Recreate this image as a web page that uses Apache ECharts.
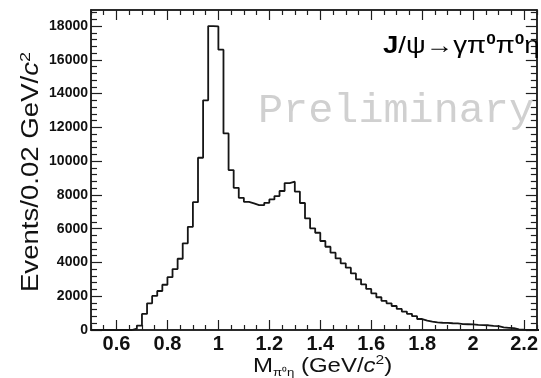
<!DOCTYPE html>
<html><head><meta charset="utf-8">
<script src="https://cdn.jsdelivr.net/npm/echarts@6/dist/echarts.min.js"></script>
<style>html,body{margin:0;padding:0;background:#fff}#c{width:541px;height:378px}</style>
</head><body><div id="c"></div>
<script>
// Histogram bin lower edges (GeV/c^2), bin width 0.02
const binLowEdges = [0.50,0.52,0.54,0.56,0.58,0.60,0.62,0.64,0.66,0.68,0.70,0.72,0.74,0.76,0.78,0.80,0.82,0.84,0.86,0.88,0.90,0.92,0.94,0.96,0.98,1.00,1.02,1.04,1.06,1.08,1.10,1.12,1.14,1.16,1.18,1.20,1.22,1.24,1.26,1.28,1.30,1.32,1.34,1.36,1.38,1.40,1.42,1.44,1.46,1.48,1.50,1.52,1.54,1.56,1.58,1.60,1.62,1.64,1.66,1.68,1.70,1.72,1.74,1.76,1.78,1.80,1.82,1.84,1.86,1.88,1.90,1.92,1.94,1.96,1.98,2.00,2.02,2.04,2.06,2.08,2.10,2.12,2.14,2.16,2.18,2.20,2.22,2.24];
const lastUpperEdge = 2.26;
// Events per bin
const counts = [0,0,0,0,0,0,0,0,80,260,950,1580,2020,2310,2680,3130,3610,4220,5130,6110,7570,10200,13600,18000,17980,16600,11640,9470,8420,7830,7590,7500,7400,7390,7530,7730,7930,8230,8700,8780,8200,7520,6610,6020,5760,5270,4930,4580,4240,3950,3690,3350,3000,2700,2430,2170,1940,1730,1580,1420,1250,1090,960,820,650,560,500,450,430,420,400,390,350,340,330,300,290,280,240,230,150,130,110,40,20,10,0,0];
const xTickLabels = [0.6,0.8,1,1.2,1.4,1.6,1.8,2,2.2];
const xMinorTicks = [0.5,0.55,0.65,0.7,0.75,0.85,0.9,0.95,1.05,1.1,1.15,1.25,1.3,1.35,1.45,1.5,1.55,1.65,1.7,1.75,1.85,1.9,1.95,2.05,2.1,2.15,2.25];
const yTickLabels = [0,2000,4000,6000,8000,10000,12000,14000,16000,18000];
const yMinorTicks = [400,800,1200,1600,2400,2800,3200,3600,4400,4800,5200,5600,6400,6800,7200,7600,8400,8800,9200,9600,10400,10800,11200,11600,12400,12800,13200,13600,14400,14800,15200,15600,16400,16800,17200,17600,18400,18800];
const X_MIN = 0.5, X_MAX = 2.25, Y_MIN = 0, Y_MAX = 18950;

const lineData = binLowEdges.map((e, i) => [e, counts[i]]);
lineData.push([lastUpperEdge, counts[counts.length - 1]]);

const frame = { color: '#1e1e1e', width: 1.5 };
const tickStyle = { color: '#1e1e1e', width: 1.2 };
const FONT = 'Liberation Sans';

function xAx(pos, ticks, len, labels) {
  return {
    type: 'value', min: X_MIN, max: X_MAX, position: pos,
    axisLine: { show: true, onZero: false, lineStyle: frame },
    axisTick: { show: true, inside: true, length: len, customValues: ticks, lineStyle: tickStyle },
    axisLabel: labels ? {
      show: true, customValues: xTickLabels, margin: 4,
      fontSize: 20, fontWeight: 'bold', color: '#111', fontFamily: FONT,
      formatter: v => String(+(+v).toFixed(1))
    } : { show: false },
    splitLine: { show: false }
  };
}
function yAx(pos, ticks, len, labels) {
  return {
    type: 'value', min: Y_MIN, max: Y_MAX, position: pos,
    axisLine: { show: true, onZero: false, lineStyle: frame },
    axisTick: { show: true, inside: true, length: len, customValues: ticks, lineStyle: tickStyle },
    axisLabel: labels ? {
      show: true, customValues: yTickLabels, margin: 3,
      fontSize: 14, fontWeight: 'bold', color: '#111', fontFamily: FONT,
      formatter: v => String(Math.round(v))
    } : { show: false },
    splitLine: { show: false }
  };
}

const chart = echarts.init(document.getElementById('c'), null, { renderer: 'canvas' });
chart.setOption({
  animation: false,
  backgroundColor: '#fff',
  grid: { left: 91, right: 2, top: 10, bottom: 48, containLabel: false },
  xAxis: [
    xAx('bottom', xTickLabels, 10, true),
    xAx('bottom', xMinorTicks, 5, false),
    xAx('top', xTickLabels, 10, false),
    xAx('top', xMinorTicks, 5, false)
  ],
  yAxis: [
    yAx('left', yTickLabels, 11, true),
    yAx('left', yMinorTicks, 6, false),
    yAx('right', yTickLabels, 11, false),
    yAx('right', yMinorTicks, 6, false)
  ],
  series: [{
    type: 'line', xAxisIndex: 0, yAxisIndex: 0, step: 'end',
    data: lineData, symbol: 'none', clip: true,
    lineStyle: { color: '#151515', width: 1.8 }, z: 5
  }],
  graphic: [
    { type: 'text', x: 258, y: 111, z: 1, silent: true, scaleX: 1.02,
      style: { text: 'Preliminary', fontFamily: 'Liberation Mono', fontSize: 41,
        fill: '#d0d0d0', align: 'left', verticalAlign: 'middle' } },
    { type: 'text', x: 383, y: 46, z: 10, silent: true, scaleX: 1.15,
      style: {
        text: '{b|J}{n|/ψ→γπ}{s|0}{n|π}{s|0}{n|η}',
        align: 'left', verticalAlign: 'middle', fill: '#000',
        rich: {
          b: { fontSize: 24, fontWeight: 'bold', fontFamily: FONT, fill: '#000', lineHeight: 28 },
          n: { fontSize: 24, fontFamily: FONT, fill: '#000', lineHeight: 28 },
          s: { fontSize: 15, fontWeight: 'bold', fontFamily: FONT, fill: '#000', verticalAlign: 'top', lineHeight: 28 }
        }
      } },
    { type: 'text', x: 32, y: 172, rotation: Math.PI / 2, scaleX: 1.2, z: 10, silent: true,
      style: {
        text: '{n|Events/0.02 GeV/}{i|c}{s|2}',
        align: 'center', verticalAlign: 'middle', fill: '#111',
        rich: {
          n: { fontSize: 23, fontFamily: FONT, fill: '#111', lineHeight: 28 },
          i: { fontSize: 23, fontFamily: FONT, fontStyle: 'italic', fill: '#111', lineHeight: 28 },
          s: { fontSize: 15, fontFamily: FONT, fill: '#111', verticalAlign: 'top', lineHeight: 28 }
        }
      } },
    { type: 'text', x: 253, y: 366, z: 10, silent: true, scaleX: 1.2,
      style: {
        text: '{n|M}{sub|π⁰η}{n| (GeV/}{i|c}{s|2}{n|)}',
        align: 'left', verticalAlign: 'middle', fill: '#111',
        rich: {
          n: { fontSize: 20, fontFamily: FONT, fill: '#111', lineHeight: 25 },
          i: { fontSize: 20, fontFamily: FONT, fontStyle: 'italic', fill: '#111', lineHeight: 25 },
          sub: { fontSize: 11, fontFamily: FONT, fill: '#111', verticalAlign: 'bottom', lineHeight: 25 },
          s: { fontSize: 13, fontFamily: FONT, fill: '#111', verticalAlign: 'top', lineHeight: 25 }
        }
      } }
  ]
});
</script>
</body></html>
